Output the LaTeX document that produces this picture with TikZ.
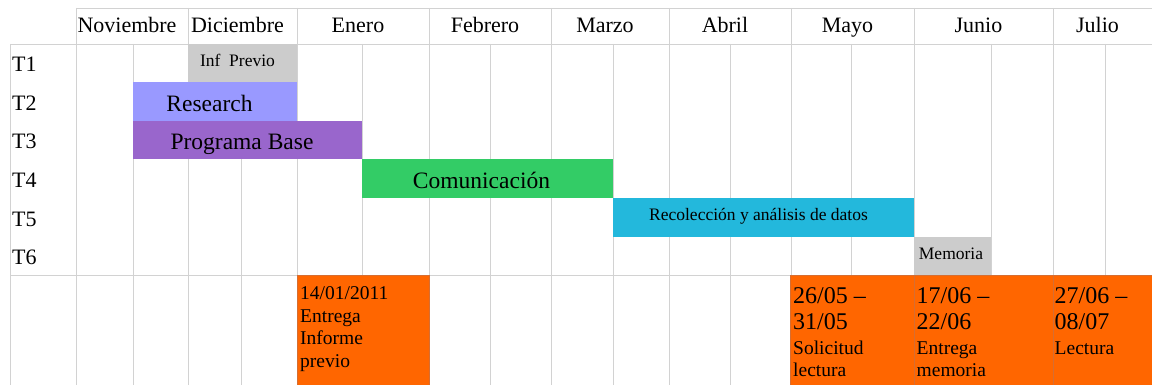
\documentclass[tikz,border=0pt]{standalone}
\usepackage{fontspec}
\setmainfont{Liberation Serif}
\definecolor{lineagris}{RGB}{210,210,210}
\definecolor{gris}{RGB}{204,204,204}
\definecolor{lila}{RGB}{153,153,255}
\definecolor{morado}{RGB}{153,102,204}
\definecolor{verde}{RGB}{51,204,102}
\definecolor{celeste}{RGB}{35,184,220}
\definecolor{naranja}{RGB}{255,102,0}
\definecolor{bordenaranja}{RGB}{214,110,50}
\tikzset{
	rejilla/.style={draw=lineagris,line width=0.8pt},
	mes/.style={anchor=base,inner sep=0pt,font=\fontsize{22}{26}\selectfont},
	tarea/.style={anchor=base west,inner sep=0pt,font=\fontsize{22}{26}\selectfont},
	barra/.style={anchor=base,inner sep=0pt,font=\fontsize{23.5}{26}\selectfont},
	barrachica/.style={barra,font=\fontsize{17.5}{20}\selectfont},
	hito/.style={anchor=base west,inner sep=0pt,align=left,font=\fontsize{19.5}{22.4}\selectfont}
}
\newcommand{\fechagrande}{\fontsize{24}{26}\selectfont}
\begin{document}
\begin{tikzpicture}[x=1pt,y=-1pt]
	\useasboundingbox (0,0) rectangle (1152,385);
	%网格
	\foreach \x in {76,188,297,429,551,669,791,914,1053}
	\draw [rejilla] (\x,8) -- (\x,385);
	\foreach \x in {133,241,362,490,613,730,851,991,1105}
	\draw [rejilla] (\x,44) -- (\x,385);
	\draw [rejilla] (10,44) -- (10,385);
	\draw [rejilla] (76,8) -- (1152,8);
	\draw [rejilla] (10,44) -- (1152,44);
	\draw [rejilla] (10,275) -- (1152,275);
	%月份
	\foreach \a/\b/\m in {76/188/Noviembre,188/297/Diciembre,297/429/Enero,
		429/551/Febrero,551/669/Marzo,669/791/Abril,791/914/Mayo,
		914/1053/Junio,1053/1152/Julio}
	\node [mes] (mes-\m) at ({(\a+\b)/2-5},33) {\m};
	%任务
	\foreach \i in {1,...,6}
	\node [tarea] (t\i) at (12,{44+38.5*(\i-1)+28}) {T\i};
	%条
	\fill [gris] (188,44) rectangle (297,82);
	\node [barrachica] (infprevio) at (237.5,66.7) {Inf\ \ Previo};
	\fill [lila] (133,82) rectangle (297,121);
	\node [barra] (research) at (209.5,111.7) {Research};
	\fill [morado] (133,121) rectangle (362,159);
	\node [barra] (programa) at (242,150) {Programa Base};
	\fill [verde] (362,159) rectangle (613,198);
	\node [barra] (comunicacion) at (481.5,188.5) {Comunicación};
	\fill [celeste] (613,198) rectangle (914,237);
	\node [barrachica] (recoleccion) at (758.5,220) {Recolección y análisis de datos};
	\fill [gris] (914,237) rectangle (991,275);
	\node [barrachica] (memoria) at (951,259) {Memoria};
	%日期
	\filldraw [fill=naranja,draw=bordenaranja,line width=0.6pt] (297,275) rectangle (429,385);
	\filldraw [fill=naranja,draw=bordenaranja,line width=0.6pt] (790,275) rectangle (914,385);
	\filldraw [fill=naranja,draw=bordenaranja,line width=0.6pt] (914,275) rectangle (1053,385);
	\filldraw [fill=naranja,draw=bordenaranja,line width=0.6pt] (1053,275) rectangle (1153,385);
	\node [hito] (entrega1) at (300,367) {14/01/2011\\Entrega\\Informe\\previo};
	\node [hito] (solicitud) at (793,376.5)
	{\fechagrande 26/05 –\\[3.5pt]\fechagrande 31/05\\[2.5pt]Solicitud\\lectura};
	\node [hito] (entrega2) at (916.5,376.5)
	{\fechagrande 17/06 –\\[3.5pt]\fechagrande 22/06\\[2.5pt]Entrega\\memoria};
	\node [hito] (lectura) at (1054.5,354)
	{\fechagrande 27/06 –\\[3.5pt]\fechagrande 08/07\\[2.5pt]Lectura};
\end{tikzpicture}
\end{document}
